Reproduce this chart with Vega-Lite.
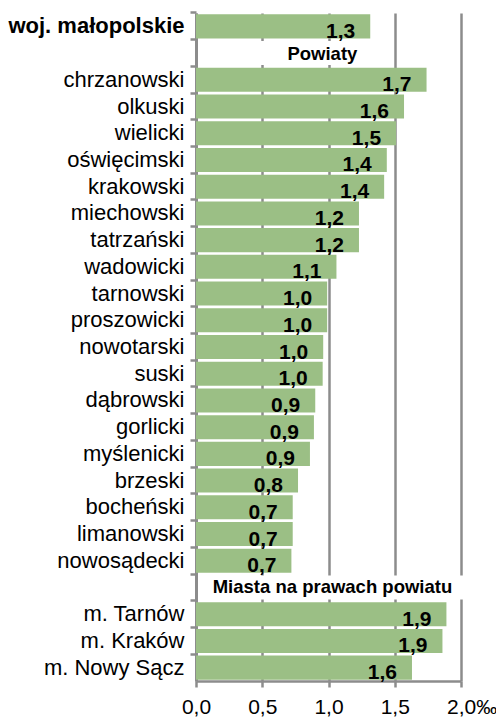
{
  "$schema": "https://vega.github.io/schema/vega-lite/v6.json",
  "width": 265,
  "height": 668,
  "autosize": {"type": "none"},
  "padding": {"left": 196, "top": 13, "right": 35, "bottom": 37},
  "background": "#ffffff",
  "config": {
    "view": {"stroke": null},
    "font": "Liberation Sans"
  },
  "data": {
    "values": [
      {"row": "woj. małopolskie", "value": 1.315},
      {"row": "Powiaty_h", "value": null, "title": "Powiaty"},
      {"row": "chrzanowski", "value": 1.74},
      {"row": "olkuski", "value": 1.57},
      {"row": "wielicki", "value": 1.51},
      {"row": "oświęcimski", "value": 1.44},
      {"row": "krakowski", "value": 1.42},
      {"row": "miechowski", "value": 1.23},
      {"row": "tatrzański", "value": 1.23},
      {"row": "wadowicki", "value": 1.06},
      {"row": "tarnowski", "value": 0.99},
      {"row": "proszowicki", "value": 0.99},
      {"row": "nowotarski", "value": 0.96},
      {"row": "suski", "value": 0.956},
      {"row": "dąbrowski", "value": 0.9},
      {"row": "gorlicki", "value": 0.89},
      {"row": "myślenicki", "value": 0.86},
      {"row": "brzeski", "value": 0.77},
      {"row": "bocheński", "value": 0.73},
      {"row": "limanowski", "value": 0.73},
      {"row": "nowosądecki", "value": 0.72},
      {"row": "Miasta_h", "value": null, "title": "Miasta na prawach powiatu"},
      {"row": "m. Tarnów", "value": 1.89},
      {"row": "m. Kraków", "value": 1.86},
      {"row": "m. Nowy Sącz", "value": 1.63}
    ]
  },
  "encoding": {
    "y": {
      "field": "row",
      "type": "nominal",
      "scale": {
        "domain": ["woj. małopolskie", "Powiaty_h", "chrzanowski", "olkuski", "wielicki", "oświęcimski", "krakowski", "miechowski", "tatrzański", "wadowicki", "tarnowski", "proszowicki", "nowotarski", "suski", "dąbrowski", "gorlicki", "myślenicki", "brzeski", "bocheński", "limanowski", "nowosądecki", "Miasta_h", "m. Tarnów", "m. Kraków", "m. Nowy Sącz"],
        "paddingInner": 0.1,
        "paddingOuter": 0.05
      },
      "axis": {
        "title": null,
        "labelFont": "Liberation Sans",
        "labelFontSize": 22,
        "labelColor": "#000000",
        "labelPadding": 6,
        "labelLimit": 300,
        "tickSize": 6,
        "tickColor": "#8c8c8c",
        "tickWidth": 2.5,
        "bandPosition": -0.06,
        "domainColor": "#8c8c8c",
        "domainWidth": 3,
        "labelExpr": "indexof(datum.value, '_h') >= 0 ? '' : datum.value",
        "labelFontWeight": {"condition": {"test": "datum.value == 'woj. małopolskie'", "value": "bold"}, "value": "normal"}
      }
    }
  },
  "layer": [
    {
      "transform": [{"filter": "datum.value != null"}],
      "mark": {"type": "bar", "color": "#9bbf85"},
      "encoding": {
        "x": {
          "field": "value",
          "type": "quantitative",
          "scale": {"domain": [0, 2], "nice": false, "zero": true},
          "axis": {
            "title": null,
            "values": [0, 0.5, 1, 1.5, 2],
            "grid": true,
            "gridColor": "#8c8c8c",
            "gridWidth": 2.5,
            "domainColor": "#8c8c8c",
            "domainWidth": 2.5,
            "tickColor": "#8c8c8c",
            "tickWidth": 2.5,
            "tickSize": 6,
            "labelFont": "Liberation Sans",
            "labelFontSize": 21,
            "labelColor": "#000000",
            "labelPadding": 9,
            "labelFlush": false,
            "labelOverlap": false,
            "labelExpr": "replace(format(datum.value, '.1f'), '.', ',') + (datum.value == 2 ? '‰' : '')",
            "labelAlign": {"condition": {"test": "datum.value == 2", "value": "left"}, "value": "center"},
            "labelOffset": {"condition": {"test": "datum.value == 2", "value": -14.5}, "value": 0}
          }
        }
      }
    },
    {
      "transform": [
        {"filter": "datum.value != null"},
        {"calculate": "replace(format(datum.value, '.1f'), '.', ',')", "as": "lbl"}
      ],
      "mark": {"type": "text", "align": "right", "baseline": "alphabetic", "dx": -15, "dy": 11.5, "fontSize": 21, "fontWeight": "bold", "font": "Liberation Sans", "color": "#000000"},
      "encoding": {
        "x": {"field": "value", "type": "quantitative"},
        "text": {"field": "lbl", "type": "nominal"}
      }
    },
    {
      "transform": [{"filter": "datum.row == 'Powiaty_h'"}],
      "mark": {"type": "rect", "color": "#ffffff"},
      "encoding": {
        "x": {"datum": 0.03, "type": "quantitative"},
        "x2": {"datum": 1.48}
      }
    },
    {
      "transform": [{"filter": "datum.row == 'Miasta_h'"}],
      "mark": {"type": "rect", "color": "#ffffff"},
      "encoding": {
        "x": {"datum": 0.03, "type": "quantitative"},
        "x2": {"datum": 2.02}
      }
    },
    {
      "transform": [{"filter": "datum.row == 'Powiaty_h'"}],
      "mark": {"type": "text", "align": "center", "baseline": "middle", "dy": 1, "fontSize": 18.5, "fontWeight": "bold", "font": "Liberation Sans", "color": "#000000"},
      "encoding": {
        "x": {"datum": 0.954, "type": "quantitative"},
        "text": {"field": "title", "type": "nominal"}
      }
    },
    {
      "transform": [{"filter": "datum.row == 'Miasta_h'"}],
      "mark": {"type": "text", "align": "center", "baseline": "middle", "dy": 0, "fontSize": 18.5, "fontWeight": "bold", "font": "Liberation Sans", "color": "#000000"},
      "encoding": {
        "x": {"datum": 1.03, "type": "quantitative"},
        "text": {"field": "title", "type": "nominal"}
      }
    }
  ]
}
